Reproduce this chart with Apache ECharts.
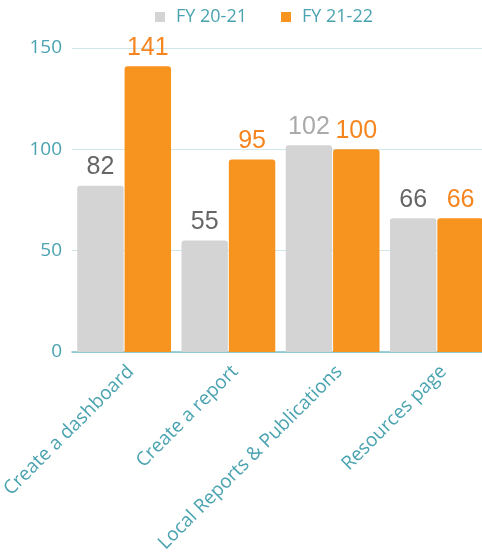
<!DOCTYPE html>
<html>
<head>
<meta charset="utf-8">
<script src="https://cdn.jsdelivr.net/npm/echarts@6/dist/echarts.min.js"></script>
<style>
  html, body { margin: 0; padding: 0; background: #fff; }
  #chart { width: 482px; height: 556px; }
</style>
</head>
<body>
<div id="chart"></div>
<script>
var categories = ['Create a dashboard', 'Create a report', 'Local Reports & Publications', 'Resources page']
var fy2021 = [82, 55, 102, 66]
var fy2122 = [141, 95, 100, 66]
var yTicks = [0, 50, 100, 150]
// the 102 label is drawn lighter in the original
var fy2021LabelColors = ['#666666', '#666666', '#aaaaaa', '#666666']

var teal = '#4aa3b0'
var chart = echarts.init(document.getElementById('chart'))

var option = {
  animation: false,
  legend: {
    left: 150,
    top: 3,
    itemWidth: 10,
    itemHeight: 10,
    itemGap: 34,
    icon: 'rect',
    textStyle: {
      color: teal,
      fontFamily: 'Open Sans',
      fontSize: 18,
      padding: [0, 0, 0, 6]
    },
    data: ['FY 20-21', 'FY 21-22']
  },
  grid: {
    left: 72,
    right: -7,
    top: 48,
    bottom: 204,
    outerBoundsMode: 'none'
  },
  xAxis: {
    type: 'category',
    data: categories,
    axisTick: { show: false },
    axisLine: { lineStyle: { color: '#7cc0ca', width: 1.5 } },
    axisLabel: {
      rotate: 45,
      interval: 0,
      margin: 10,
      verticalAlign: 'top',
      color: teal,
      fontFamily: 'Open Sans',
      fontSize: 19
    }
  },
  yAxis: {
    type: 'value',
    min: yTicks[0],
    max: yTicks[yTicks.length - 1],
    interval: 50,
    axisLine: { show: false },
    axisTick: { show: false },
    splitLine: { lineStyle: { color: '#cfe6ea' } },
    axisLabel: {
      margin: 10,
      color: teal,
      fontFamily: 'Open Sans',
      fontSize: 19
    }
  },
  series: [
    {
      name: 'FY 20-21',
      type: 'bar',
      data: fy2021.map(function (v, i) {
        return { value: v, label: { color: fy2021LabelColors[i] } }
      }),
      barGap: '2%',
      barCategoryGap: '10%',
      itemStyle: { color: '#d4d4d4', borderRadius: [3, 3, 0, 0] },
      label: {
        show: true,
        position: 'top',
        distance: 6,
        fontFamily: 'Liberation Sans',
        fontSize: 25
      }
    },
    {
      name: 'FY 21-22',
      type: 'bar',
      data: fy2122,
      itemStyle: { color: '#f7941f', borderRadius: [3, 3, 0, 0] },
      label: {
        show: true,
        position: 'top',
        distance: 6,
        fontFamily: 'Liberation Sans',
        fontSize: 25,
        color: '#f7851f'
      }
    }
  ]
}

chart.setOption(option)
</script>
</body>
</html>
